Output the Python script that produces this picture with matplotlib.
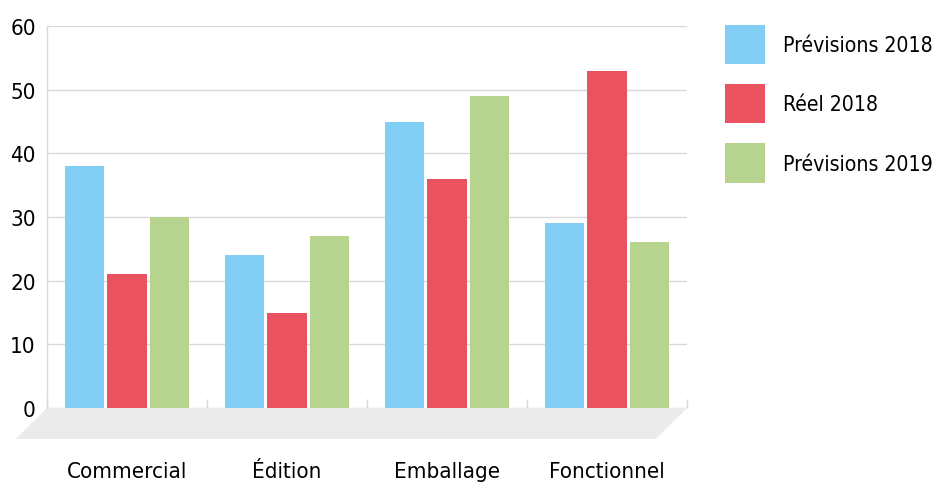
import matplotlib
matplotlib.use('Agg')
import matplotlib.pyplot as plt
from matplotlib.patches import Polygon, Patch

plt.rcParams['font.family'] = ['DejaVu Sans']
plt.rcParams['font.stretch'] = 'condensed'

categories = ['Commercial', 'Édition', 'Emballage', 'Fonctionnel']
series_names = ['Prévisions 2018', 'Réel 2018', 'Prévisions 2019']
prev_2018 = [38, 24, 45, 29]
reel_2018 = [21, 15, 36, 53]
prev_2019 = [30, 27, 49, 26]
y_ticks = [0, 10, 20, 30, 40, 50, 60]

colors = ['#81CFF4', '#EB5260', '#B7D48E']
GRID = '#D9D9D9'
FLOOR = '#EBEBEB'
FS = 16
FS_LEG = 15.2

W, H = 938, 485
fig = plt.figure(figsize=(W / 100, H / 100), dpi=100)
# axes box in pixels: x 47..687, y 27..409 (from top)
ax = fig.add_axes([47 / W, 1 - 409 / H, 640 / W, 382 / H])

xs = list(range(len(categories)))
width = 0.245
offset = 0.266
for k, vals in enumerate([prev_2018, reel_2018, prev_2019]):
    ax.bar([x + (k - 1) * offset for x in xs], vals, width=width,
           color=colors[k], zorder=3, label=series_names[k])

ax.set_xlim(-0.5, len(categories) - 0.5)
ax.set_ylim(0, 60)
ax.set_yticks(y_ticks)
ax.set_yticklabels([str(t) for t in y_ticks], fontsize=FS)
ax.tick_params(axis='y', length=0, pad=8)

# short boundary ticks at the baseline
ax.set_xticks([x - 0.5 for x in range(len(categories) + 1)], minor=True)
ax.tick_params(axis='x', which='minor', direction='in', length=6.5, width=1, color=GRID)
ax.set_xticks(xs)
ax.set_xticklabels(categories, fontsize=FS)
ax.tick_params(axis='x', which='major', length=0, pad=38)

ax.grid(axis='y', color=GRID, linewidth=1, zorder=0)
for s in ['top', 'right', 'bottom']:
    ax.spines[s].set_visible(False)
ax.spines['left'].set_color(GRID)
ax.spines['left'].set_linewidth(1)

# grey floor under the baseline
dy = 31 / 382
dx = 31 / 640
floor = Polygon([(0, 0), (1, 0), (1 - dx, -dy), (-dx, -dy)], closed=True,
                transform=ax.transAxes, facecolor=FLOOR, edgecolor='none',
                clip_on=False, zorder=1)
ax.add_patch(floor)

fpx = FS_LEG * 100 / 72  # legend font size in pixels
handles = [Patch(facecolor=c, edgecolor='none') for c in colors]
fig.legend(handles, series_names, loc='upper left',
           bbox_to_anchor=(725 / W, 1 - 26 / H), frameon=False,
           prop={'size': FS_LEG, 'stretch': 'condensed'},
           handlelength=40 / fpx, handleheight=40 / fpx * 1.31,
           handletextpad=18 / fpx, labelspacing=20 / fpx,
           borderpad=0, borderaxespad=0)

fig.savefig('out.png', dpi=100)
